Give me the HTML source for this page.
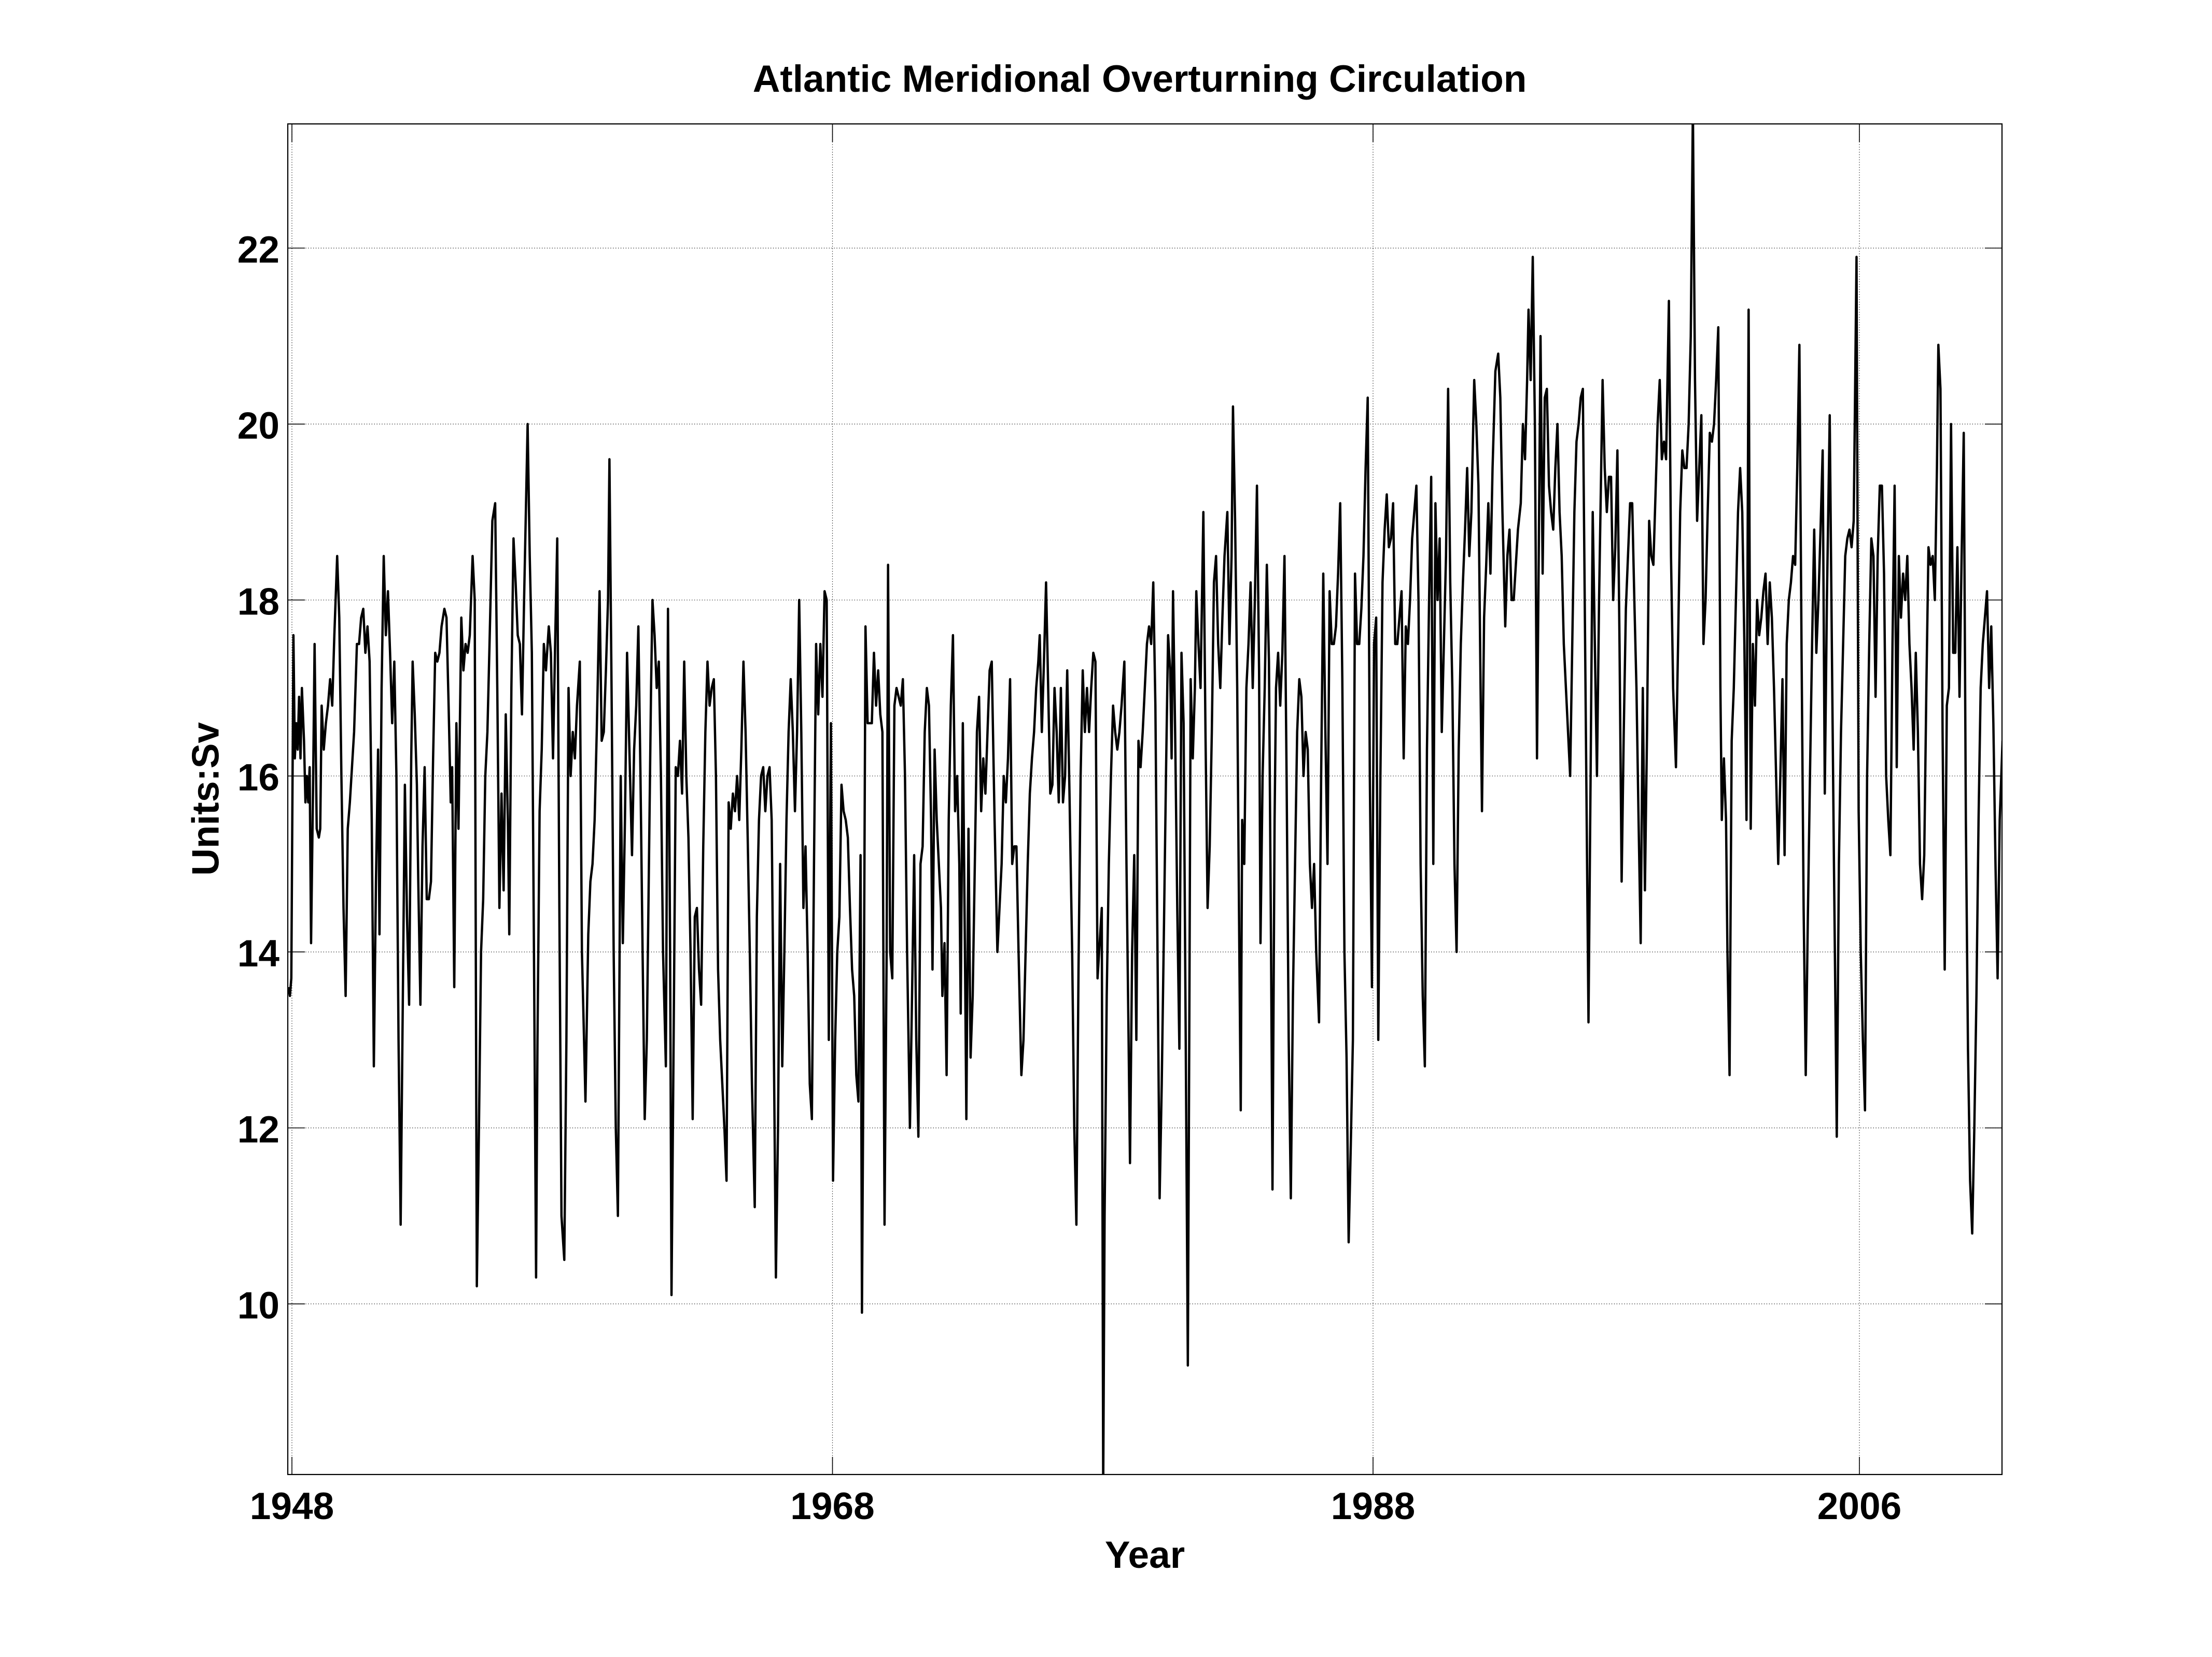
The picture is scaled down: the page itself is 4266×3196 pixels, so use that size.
<!DOCTYPE html>
<html>
<head>
<meta charset="utf-8">
<style>
html,body{margin:0;padding:0;background:#fff;}
svg{display:block;}
</style>
</head>
<body>
<svg xmlns="http://www.w3.org/2000/svg" width="4266" height="3196" viewBox="0 0 4266 3196" font-family="'Liberation Sans', Arial, Helvetica, sans-serif" font-weight="bold">
<rect x="0" y="0" width="4266" height="3196" fill="#ffffff"/>
<defs>
<clipPath id="c"><rect x="555" y="239" width="3306" height="2605"/></clipPath>
</defs>
<!-- grid -->
<g stroke="#000" stroke-width="1.2" stroke-dasharray="1.3 3.6" fill="none">
<line x1="555" y1="2514.9" x2="3861" y2="2514.9"/>
<line x1="555" y1="2175.5" x2="3861" y2="2175.5"/>
<line x1="555" y1="1836.1" x2="3861" y2="1836.1"/>
<line x1="555" y1="1496.7" x2="3861" y2="1496.7"/>
<line x1="555" y1="1157.3" x2="3861" y2="1157.3"/>
<line x1="555" y1="817.9" x2="3861" y2="817.9"/>
<line x1="555" y1="478.5" x2="3861" y2="478.5"/>
<line x1="563" y1="239" x2="563" y2="2844"/>
<line x1="1605.5" y1="239" x2="1605.5" y2="2844"/>
<line x1="2648" y1="239" x2="2648" y2="2844"/>
<line x1="3586" y1="239" x2="3586" y2="2844"/>
</g>
<!-- data -->
<g clip-path="url(#c)">
<polyline transform="matrix(2.7207 0 0 -169.7 0 4211.9)" fill="none" stroke="#000" stroke-width="4.5" vector-effect="non-scaling-stroke" stroke-linejoin="round" points="
204.5,13.6 205.5,13.5 206.5,13.7 208,17.6 209,16.2 210,16.6 211,16.3 212,16.9 213,16.2 214,17.0 215.5,16.4 216.5,15.7 217.5,16.0 218.5,15.7 219.5,16.1 220.5,14.1 222,16.0 223,17.5 224.5,15.4 226,15.3 227,15.4 228,16.8 229.5,16.3 231,16.6 232.5,16.8 234,17.1 235.5,16.8 237,17.6 239,18.5 240.5,17.8 242,16.0 243.5,14.5 245,13.5
246.5,15.4 248,15.7 249.5,16.1 251,16.5 253,17.5 254.5,17.5 256,17.8 257.5,17.9 259,17.4 260.5,17.7 262,17.3 263.5,15.5 265,12.7 266.5,14.8 268,16.3 269,14.2 270.5,17.0 272,18.5 273.5,17.6 275,18.1 276.5,17.4 278,16.6 279.5,17.3 281,16.0 282.5,13.0 284,10.9 285.5,13.4 287,15.9 288.5,14.4 290,13.4 291.5,16.2 292.5,17.3 294,16.7 295.5,15.9 296.5,14.8 298,13.4 299.5,15.2 301,16.1 302.5,14.6 304,14.6 305.5,14.8 307,16.2
308.5,17.4 310,17.3 311.5,17.4 313,17.7 315,17.9 316.5,17.8 318,16.8 319.5,15.7 320.5,16.1 322,13.6 323.5,16.6 325,15.4 327,17.8 328.5,17.2 330,17.5 331.5,17.4 333,17.6 335,18.5 336.5,18.0 338,10.2 339.5,12.0 341,14.0 342.5,14.6 344,16.0 345.5,16.5 347,17.5 349,18.9 351,19.1 352.5,17.0 354,14.5 355.5,15.8 357,14.7 358.5,16.7 360,15.5 361,14.2 362.5,17.0 364,18.7 365.5,18.2 367,17.6 368.5,17.5 370,16.7 371.5,18.0 374,20.0 375.5,18.5 377,17.4 378.5,14.0 380,10.3 381,13.0 382.5,15.6 384,16.3 385.5,17.5 387,17.2 389,17.7 390.5,17.4 392,16.2 393.5,17.5 395,18.7 396.5,14.5 398,11.0 400,10.5 401.5,13.0 403,17.0 404.5,16.0 406,16.5 407.5,16.2 409,16.8 411,17.3 412.5,14.0 414,13.0 415,12.3 417,14.2 418.5,14.8 420,15.0 421.5,15.5 423,16.5 425,18.1 426.5,16.4 428,16.5 429.5,17.2 431,18.0 432,19.6 433.5,17.0 435,14.0 436.5,12.0 438,11.0 440,16.0 441.5,14.1 443,15.5 444.5,17.4 446,16.4 448,15.1 449.5,16.3 451,16.8 452.5,17.7 454,16.0 455.5,14.0 457,12.1 458.5,13.0 460,15.0 461.5,17.0 462.5,18.0 464,17.6 465.5,17.0 467,17.3 468.5,16.0 470,14.0 472,12.7 473.5,17.9 475,14.0 476,10.1 477.5,13.0 479,16.1 480.5,16.0 482,16.4 483.5,15.8 485,17.3 486.5,16.0 488,15.3 489.5,14.0 491,12.1 492.5,14.4 494,14.5 495.5,13.8 497,13.4 498.5,15.2 500,16.5 501.5,17.3 503,16.8 504.5,17.0 506,17.1 507.5,16.0 509,13.8 510.5,13.0 512,12.5 513.5,12.0 515,11.4 516.5,15.7 518,15.4 519.5,15.8 521,15.6 522.5,16.0 524,15.5 525.5,16.3 527,17.3 528.5,16.5 530,15.3 531.5,14.0 533,12.5 535,11.1 536.5,14.4 538,15.5 539.5,16.0 541,16.1 542.5,15.6 544,16.0 545.5,16.1 547,15.5 548.5,13.0 550,10.3 551.5,12.0 553,15.0 554.5,12.7 556,14.0 557.5,15.5 559,16.5 560.5,17.1 562,16.5 563.5,15.6 565,16.5 566.5,18.0 568,16.5 569.5,14.5 571,15.2 572.5,14.0 574,12.5 575.5,12.1 577,15.0 578.5,17.5 580,16.7 581.5,17.5 583,16.9 584.5,18.1 586,18.0 587.5,13.0 589,16.6 590.5,11.4 592,13.0 593.5,14.0 595,14.4 596.5,15.9 598,15.6 599.5,15.5 601,15.3 602.5,14.5 604,13.8 605.5,13.5 607,12.6 608.5,12.3 610,15.1 611,9.9 612.5,14.0 613.5,17.7 615,16.6 616.5,16.6 618,16.6 619.5,17.4 621,16.8 622.5,17.2 624,16.7 625.5,16.5 627,10.9 628.5,14.0 629.5,18.4 631,14.0 632.5,13.7 634,16.8 635.5,17.0 637,16.9 638.5,16.8 640,17.1 641.5,16.0 643,14.0 645,12.0 646.5,13.5 648,15.1 649.5,13.0 651,11.9 652.5,15.0 654,15.2 655.5,16.5 657,17.0 658.5,16.8 660,15.5 661,13.8 662.5,16.3 664,15.5 665.5,15.0 667,14.5 668,13.5 669.5,14.1 671,12.6 672.5,15.5 674,16.8 675.5,17.6 677,15.6 678.5,16.0 680,15.0 681,13.3 682.5,16.6 684,14.0 685,12.1 686.5,15.4 688,12.8 689.5,13.5 691,15.0 692.5,16.5 694,16.9 695.5,15.6 697,16.2 698.5,15.8 700,16.5 701.5,17.2 703,17.3 705,15.5 707,14.0 708.5,14.5 710,15.0 711.5,16.0 713,15.7 714.5,16.2 716,17.1 717.5,15.0 719,15.2 720.5,15.2 722,14.0 724,12.6 725.5,13.0 727,14.0 728.5,15.0 730,15.8 731.5,16.2 733,16.5 734.5,17.0 736,17.3 737,17.6 738.5,16.5 740,17.3 741.5,18.2 743,17.0 744.5,15.8 746,15.9 747.5,17.0 749,16.5 750.5,15.7 752,17.0 753.5,15.7 755,16.0 756.5,17.2 758,15.9 760,14.0 761.5,12.0 763,10.9 764.5,13.8 766,16.0 767.5,17.2 769,16.5 770.5,17.0 772,16.5 773.5,17.0 775,17.4 776.5,17.3 778,13.7 779.5,14.1 781,14.5 782,7.9 783,11.0 784.5,13.5 786,15.0 787.5,16.0 789,16.8 790.5,16.5 792,16.3 793.5,16.5 795,16.8 797,17.3 798.5,15.0 800,13.0 801,11.6 802.5,14.0 804,15.1 805.5,13.0 807,16.4 808.5,16.1 810,16.5 811.5,17.0 813,17.5 814.5,17.7 816,17.5 817.5,18.2 819,16.8 820.5,14.0 822,11.2 823.5,12.5 825,14.2 826.5,16.0 828,17.6 829.5,17.2 830.5,16.2 831.5,18.1 833,16.5 834.5,14.5 836,12.9 837.5,17.4 839,16.6 840.5,13.0 842,9.3 843,13.0 844,17.1 845.5,16.2 847,17.0 848,18.1 849.5,17.5 851,17.0 853,19.0 854.5,16.5 856,14.5 857.5,15.2 859,16.5 860.5,18.2 862,18.5 863.5,17.5 865,17.0 866.5,17.8 868,18.5 870,19.0 871.5,17.5 873,18.5 874,20.2 875.5,18.9 877,17.0 878.5,14.0 879.5,12.2 880.5,15.5 882,15.0 883.5,17.0 885,17.5 886.5,18.2 888,17.0 889.5,18.0 891,19.3 892.5,17.2 893.5,14.1 895,16.0 896.5,17.0 898,18.4 899.5,17.3 901,14.0 902,11.3 903.5,15.5 904.5,17.0 906,17.4 907.5,16.8 909,17.4 910.5,18.5 912,16.0 913.5,13.0 915,11.2 916.5,13.5 918,15.0 919.5,16.5 921,17.1 922.5,16.9 924,16.0 925.5,16.5 927,16.3 928.5,15.0 930,14.5 931.5,15.0 933,14.0 935,13.2 936.5,16.0 938,18.3 939.5,16.5 941,15.0 942.5,18.1 944,17.5 945.5,17.5 947,17.7 948.5,18.3 950,19.1 951.5,17.1 953,14.0 954.5,12.8 956,10.7 957.5,11.8 959,13.0 960.5,18.3 962,17.5 963.5,17.5 965,17.9 966.5,18.5 968,19.5 969.5,20.3 971,16.0 972.5,13.6 974,17.5 975.5,17.8 977,13.0 978.5,16.0 980,18.2 981.5,18.8 983,19.2 984.5,18.6 986,18.7 987.5,19.1 989,17.5 990.5,17.5 992,17.8 993.5,18.1 995,16.2 996.5,17.7 998,17.5 999.5,18.0 1001,18.7 1002.5,19.0 1004,19.3 1005.5,18.0 1007,15.0 1008.5,13.5 1010,12.7 1011.5,16.3 1013,18.0 1014.5,19.4 1016,15.0 1017.5,19.1 1019,18.0 1020.5,18.7 1022,16.5 1023.5,17.5 1025,18.5 1026.5,20.4 1028,18.2 1029.5,17.0 1031,15.0 1032.5,14.0 1034,16.3 1035.5,17.5 1037,18.2 1038.5,18.8 1040,19.5 1041.5,18.5 1043,19.0 1045,20.5 1046.5,20.0 1048,19.3 1049.5,17.0 1050.5,15.6 1052,17.8 1053.5,18.4 1055,19.1 1056.5,18.3 1058,19.5 1060,20.6 1062,20.8 1063.5,20.3 1065,19.0 1067,17.7 1068.5,18.5 1070,18.8 1071.5,18.0 1073,18.0 1074.5,18.4 1076,18.8 1078,19.1 1079.5,20.0 1081,19.6 1082.5,20.5 1083.5,21.3 1085,20.5 1086.5,21.9 1088,20.0 1089.5,16.2 1091,19.0 1092,21.0 1093.5,18.3 1095,20.3 1096.5,20.4 1098,19.3 1099.5,19.0 1101,18.8 1102.5,19.5 1104,20.0 1105.5,19.0 1107,18.5 1108.5,17.5 1110,17.0 1111.5,16.5 1113,16.0 1114.5,17.5 1116,19.0 1117.5,19.8 1119,20.0 1120.5,20.3 1122,20.4 1123.5,17.7 1125,15.0 1126,13.2 1127.5,16.0 1129,19.0 1130.5,17.5 1132,16.0 1133.5,18.0 1135,19.5 1136,20.5 1137.5,19.5 1139,19.0 1140.5,19.4 1142,19.4 1143.5,18.0 1145,18.6 1146.5,19.7 1148,17.5 1149.5,14.8 1151,16.5 1152.5,17.9 1154,18.5 1155.5,19.1 1157,19.1 1158.5,18.0 1160,17.0 1161.5,15.5 1163,14.1 1164.5,17.0 1166,14.7 1167.5,16.5 1169,18.9 1170.5,18.5 1172,18.4 1173.5,19.2 1175,20.0 1176.5,20.5 1178,19.6 1179.5,19.8 1181,19.6 1183,21.4 1184.5,18.5 1186,17.0 1188,16.1 1189.5,17.5 1191,19.0 1192.5,19.7 1194,19.5 1195.5,19.5 1197,20.0 1198.5,21.0 1200,23.6 1201.5,20.5 1203,18.9 1204.5,19.5 1206,20.1 1207.5,17.5 1209,18.0 1210.5,19.0 1212,19.9 1213.5,19.8 1215,20.0 1216.5,20.5 1218,21.1 1219.5,17.0 1220.5,15.5 1222,16.2 1223.5,15.5 1224.5,14.0 1226,12.6 1227.5,16.4 1229,17.0 1230.5,18.0 1232,19.0 1233.5,19.5 1235,19.0 1236.5,17.5 1238,15.5 1239.5,21.3 1241,15.4 1242.5,17.5 1244,16.8 1245.5,18.0 1247,17.6 1248.5,17.8 1250,18.1 1251.5,18.3 1253,17.5 1254.5,18.2 1256,17.8 1257.5,17.0 1259,16.0 1260.5,15.0 1262,16.0 1263.5,17.1 1265,15.1 1266.5,17.5 1268,18.0 1269.5,18.2 1271,18.5 1272.5,18.4 1274,19.5 1275.5,20.9 1277,17.5 1278.5,14.5 1280,12.6 1281.5,14.4 1283,16.0 1284.5,17.5 1286,18.8 1287.5,17.4 1289,18.0 1290.5,18.8 1292,19.7 1293.5,15.8 1295,18.0 1297,20.1 1298.5,17.5 1300,15.0 1302,11.9 1303.5,15.0 1305,16.5 1306.5,17.5 1308,18.5 1309.5,18.7 1311,18.8 1312.5,18.6 1314,18.9 1316,21.9 1317.5,15.6 1319,14.0 1320.5,13.0 1322,12.2 1323.5,16.0 1325,17.5 1326.5,18.7 1328,18.5 1329.5,16.9 1331,18.5 1332.5,19.3 1334,19.3 1335.5,18.3 1337,16.0 1338.5,15.5 1340,15.1 1341.5,17.5 1343,19.3 1344.5,16.1 1346,18.5 1347.5,17.8 1349,18.3 1350.5,18.0 1352,18.5 1353.5,17.5 1355,17.0 1356.5,16.3 1358,17.4 1359.5,16.5 1361,15.0 1362.5,14.6 1364,15.1 1365.5,17.0 1367,18.6 1368.5,18.4 1370,18.5 1371.5,18.0 1373,19.5 1374,20.9 1375.5,20.4 1377,16.5 1378.5,13.8 1380,16.8 1381.5,17.0 1383,20.0 1384.5,17.4 1386,17.4 1387.5,18.6 1389,16.9 1390.5,18.5 1392,19.9 1393.5,15.5 1395,12.9 1396.5,11.4 1398,10.8 1399.5,12.0 1401,13.5 1402.5,15.5 1404,17.0 1405.5,17.5 1407,17.8 1408.5,18.1 1410,17.0 1411.5,17.7 1413,16.6 1414.5,15.0 1416,13.7 1417.5,15.5 1419.5,16.4
"/>
</g>
<!-- frame -->
<rect x="555" y="239" width="3306" height="2605" fill="none" stroke="#000" stroke-width="2.2"/>
<!-- ticks -->
<g stroke="#000" stroke-width="1.6" fill="none">
<line x1="563" y1="239" x2="563" y2="274"/>
<line x1="1605.5" y1="239" x2="1605.5" y2="274"/>
<line x1="2648" y1="239" x2="2648" y2="274"/>
<line x1="3586" y1="239" x2="3586" y2="274"/>
<line x1="563" y1="2844" x2="563" y2="2810"/>
<line x1="1605.5" y1="2844" x2="1605.5" y2="2810"/>
<line x1="2648" y1="2844" x2="2648" y2="2810"/>
<line x1="3586" y1="2844" x2="3586" y2="2810"/>
<line x1="555" y1="2514.9" x2="588" y2="2514.9"/>
<line x1="555" y1="2175.5" x2="588" y2="2175.5"/>
<line x1="555" y1="1836.1" x2="588" y2="1836.1"/>
<line x1="555" y1="1496.7" x2="588" y2="1496.7"/>
<line x1="555" y1="1157.3" x2="588" y2="1157.3"/>
<line x1="555" y1="817.9" x2="588" y2="817.9"/>
<line x1="555" y1="478.5" x2="588" y2="478.5"/>
<line x1="3861" y1="2514.9" x2="3828" y2="2514.9"/>
<line x1="3861" y1="2175.5" x2="3828" y2="2175.5"/>
<line x1="3861" y1="1836.1" x2="3828" y2="1836.1"/>
<line x1="3861" y1="1496.7" x2="3828" y2="1496.7"/>
<line x1="3861" y1="1157.3" x2="3828" y2="1157.3"/>
<line x1="3861" y1="817.9" x2="3828" y2="817.9"/>
<line x1="3861" y1="478.5" x2="3828" y2="478.5"/>
</g>
<!-- tick labels -->
<g font-size="73" fill="#000">
<g text-anchor="end">
<text x="539" y="2543">10</text>
<text x="539" y="2203.5">12</text>
<text x="539" y="1864">14</text>
<text x="539" y="1524.7">16</text>
<text x="539" y="1185.3">18</text>
<text x="539" y="846">20</text>
<text x="539" y="506.5">22</text>
</g>
<g text-anchor="middle">
<text x="563" y="2930">1948</text>
<text x="1605.5" y="2930">1968</text>
<text x="2648" y="2930">1988</text>
<text x="3586" y="2930">2006</text>
</g>
<text x="2198" y="177" text-anchor="middle">Atlantic Meridional Overturning Circulation</text>
<text x="2208" y="3024" text-anchor="middle">Year</text>
<text transform="translate(421.7,1541) rotate(-90)" text-anchor="middle">Units:Sv</text>
</g>
</svg>
</body>
</html>
